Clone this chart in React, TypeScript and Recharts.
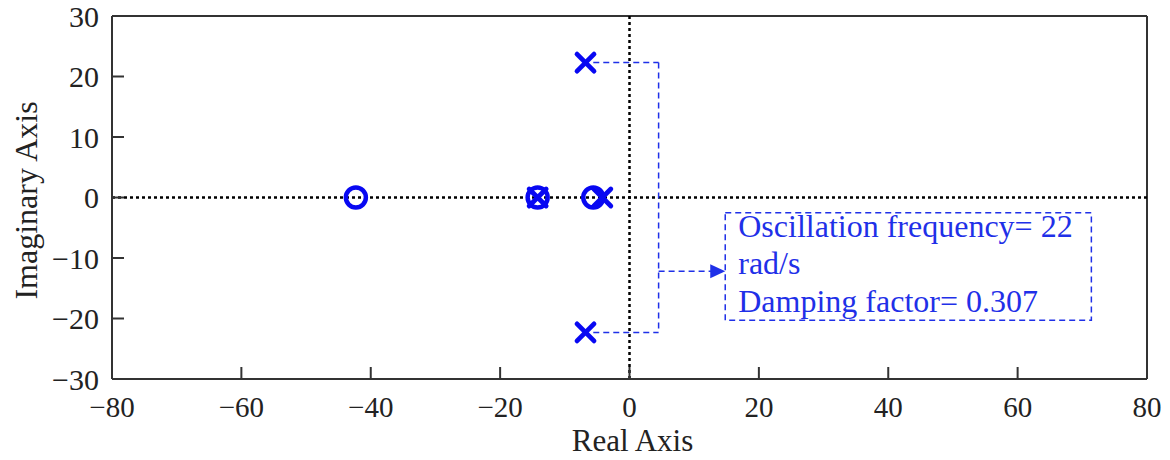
import React from "react";
import {
  ScatterChart,
  Scatter,
  XAxis,
  YAxis,
  ReferenceLine,
  ReferenceArea,
  ReferenceDot,
  Label,
} from "recharts";

// ---- data ----
const poleRe = [-6.8, -6.8, -14.2, -4.2];
const poleIm = [22.3, -22.3, 0, 0];
const zeroRe = [-42.3, -14.2, -5.6];
const zeroIm = [0, 0, 0];

const xTicks = [-80, -60, -40, -20, 0, 20, 40, 60, 80];
const yTicks = [-30, -20, -10, 0, 10, 20, 30];

const annotationLines = [
  "Oscillation frequency= 22",
  "rad/s",
  "Damping factor= 0.307",
];
// annotation geometry in data units
const bracketX = 4.5;
const bracketTop = 22.3;
const bracketBottom = -22.3;
const bracketStartX = -5.6;
const arrowY = -12.2;
const boxX1 = 14.8;
const boxX2 = 71.4;
const boxY1 = -20.3;
const boxY2 = -2.5;

const poles = poleRe.map((x, i) => ({ x, y: poleIm[i] }));
const zeros = zeroRe.map((x, i) => ({ x, y: zeroIm[i] }));

const FONT = "'Liberation Serif', 'Times New Roman', Times, serif";
const MARK = "#0808f2";
const ANNO = "#1f30e8";
const AXIS = "#333";

const fmt = (v: number) => (v < 0 ? "\u2212" + Math.abs(v) : String(v));

const YTick = (props: any) => {
  const { x, y, payload } = props;
  return (
    <g>
      <line x1={x} x2={x + 12} y1={y} y2={y} stroke={AXIS} strokeWidth={2} />
      <text
        x={x - 13}
        y={y}
        dy="0.35em"
        textAnchor="end"
        fontFamily={FONT}
        fontSize={30}
        fill="#222"
      >
        {fmt(payload.value)}
      </text>
    </g>
  );
};

const XTick = (props: any) => {
  const { x, y, payload } = props;
  return (
    <g>
      <line x1={x} x2={x} y1={y} y2={y - 12} stroke={AXIS} strokeWidth={2} />
      <text
        x={x}
        y={y + 38}
        textAnchor="middle"
        fontFamily={FONT}
        fontSize={29}
        fill="#222"
      >
        {fmt(payload.value)}
      </text>
    </g>
  );
};

const XShape = (props: any) => {
  const { cx, cy } = props;
  const s = 8.5;
  return (
    <g stroke={MARK} strokeWidth={4.8} strokeLinecap="round">
      <line x1={cx - s} y1={cy - s} x2={cx + s} y2={cy + s} />
      <line x1={cx - s} y1={cy + s} x2={cx + s} y2={cy - s} />
    </g>
  );
};

const OShape = (props: any) => {
  const { cx, cy } = props;
  return <circle cx={cx} cy={cy} r={10} fill="none" stroke={MARK} strokeWidth={4.5} />;
};

const ArrowHead = (props: any) => {
  const { cx, cy } = props;
  return (
    <path
      d={`M ${cx} ${cy} L ${cx - 15} ${cy - 7} L ${cx - 15} ${cy + 7} Z`}
      fill={ANNO}
      stroke="none"
    />
  );
};

const BoxText = (props: any) => {
  const { viewBox } = props;
  const { x, y } = viewBox;
  return (
    <g>
      {annotationLines.map((t, i) => (
        <text
          key={i}
          x={x + 13}
          y={y + 24 + i * 37.5}
          fontFamily={FONT}
          fontSize={32}
          fill={ANNO}
        >
          {t}
        </text>
      ))}
    </g>
  );
};

const XLabel = (props: any) => {
  const { viewBox } = props;
  return (
    <text
      x={viewBox.x + viewBox.width / 2 + 3}
      y={viewBox.y + 72}
      textAnchor="middle"
      fontFamily={FONT}
      fontSize={31}
      fill="#222"
    >
      Real Axis
    </text>
  );
};

const YLabel = (props: any) => {
  const { viewBox } = props;
  const cx = viewBox.x + 5;
  const cy = viewBox.y + viewBox.height / 2 + 3;
  return (
    <text
      transform={`translate(${cx},${cy}) rotate(-90)`}
      textAnchor="middle"
      fontFamily={FONT}
      fontSize={32}
      fill="#222"
    >
      Imaginary Axis
    </text>
  );
};

const dash = "6 4";

export default function App() {
  return (
    <div style={{ position: "absolute", left: 0, top: 0, width: 1170, height: 460, background: "#fff" }}>
      <ScatterChart
        width={1170}
        height={460}
        margin={{ top: 16, right: 23, bottom: 1, left: 32 }}
      >
        <XAxis
          type="number"
          dataKey="x"
          domain={[-80, 80]}
          ticks={xTicks}
          allowDataOverflow
          height={80}
          tickSize={0}
          tickMargin={0}
          tickLine={false}
          axisLine={{ stroke: AXIS, strokeWidth: 2 }}
          tick={<XTick />}
          label={<Label content={<XLabel />} />}
        />
        <YAxis
          type="number"
          dataKey="y"
          domain={[-30, 30]}
          ticks={yTicks}
          allowDataOverflow
          width={80}
          tickSize={0}
          tickMargin={0}
          tickLine={false}
          axisLine={{ stroke: AXIS, strokeWidth: 2 }}
          tick={<YTick />}
          label={<Label content={<YLabel />} />}
        />
        <ReferenceLine y={30} stroke={AXIS} strokeWidth={2} ifOverflow="visible" />
        <ReferenceLine x={80} stroke={AXIS} strokeWidth={2} ifOverflow="visible" />
        <ReferenceLine x={0} stroke="#000" strokeWidth={2.5} strokeDasharray="3 3" />
        <ReferenceLine y={0} stroke="#000" strokeWidth={2.5} strokeDasharray="3 3" />

        <ReferenceLine
          segment={[{ x: bracketStartX, y: bracketTop }, { x: bracketX, y: bracketTop }]}
          stroke={ANNO}
          strokeWidth={1.5}
          strokeDasharray={dash}
        />
        <ReferenceLine
          segment={[{ x: bracketX, y: bracketTop }, { x: bracketX, y: bracketBottom }]}
          stroke={ANNO}
          strokeWidth={1.5}
          strokeDasharray={dash}
        />
        <ReferenceLine
          segment={[{ x: bracketStartX, y: bracketBottom }, { x: bracketX, y: bracketBottom }]}
          stroke={ANNO}
          strokeWidth={1.5}
          strokeDasharray={dash}
        />
        <ReferenceLine
          segment={[{ x: bracketX, y: arrowY }, { x: boxX1 - 2, y: arrowY }]}
          stroke={ANNO}
          strokeWidth={1.5}
          strokeDasharray={dash}
        />
        <ReferenceDot x={boxX1} y={arrowY} shape={<ArrowHead />} />
        <ReferenceArea
          x1={boxX1}
          x2={boxX2}
          y1={boxY1}
          y2={boxY2}
          fill="none"
          fillOpacity={0}
          stroke={ANNO}
          strokeWidth={1.5}
          strokeDasharray={dash}
          label={<Label content={<BoxText />} />}
        />

        <Scatter data={zeros} shape={<OShape />} isAnimationActive={false} />
        <Scatter data={poles} shape={<XShape />} isAnimationActive={false} />
      </ScatterChart>
    </div>
  );
}
